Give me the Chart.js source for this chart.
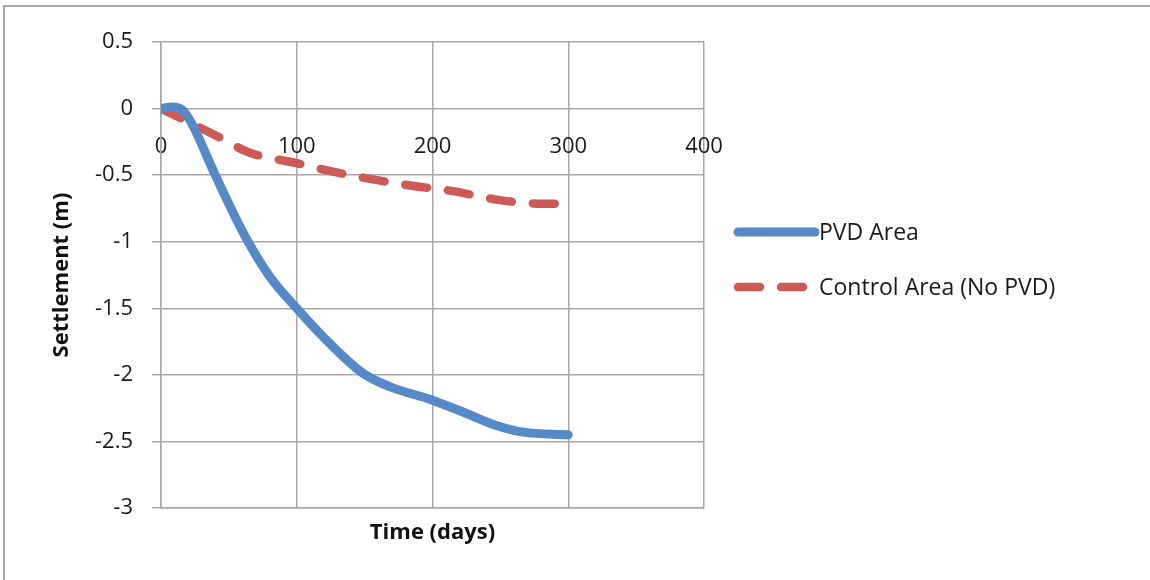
<!doctype html>
<html><head><meta charset="utf-8">
<script src="https://cdn.jsdelivr.net/npm/chart.js@4.4.0/dist/chart.umd.min.js"></script>
<style>
* { margin:0; padding:0; box-sizing:border-box; }
html,body { width:1150px; height:580px; overflow:hidden; background:#fff; }
.frame { position:absolute; left:3px; top:5px; width:1160px; height:600px;
  border-top:2px solid #a8a8a8; border-left:2px solid #a8a8a8; }
canvas { position:absolute; left:0; top:0; }
</style></head>
<body>
<div class="frame"></div>
<canvas id="chart" width="1150" height="580"></canvas>
<script>
// values
const pvdDays = [0, 8, 15, 22, 40, 62, 80, 100, 120, 149, 169, 200, 225, 247, 267, 300];
const pvdSettlement = [0, 0.012, -0.005, -0.1, -0.5, -0.96, -1.26, -1.5, -1.72, -1.99, -2.09, -2.19, -2.29, -2.38, -2.43, -2.45];
const controlDays = [0, 10, 40, 65, 100, 125, 155, 185, 215, 245, 270, 290];
const controlSettlement = [0, -0.05, -0.2, -0.33, -0.41, -0.47, -0.53, -0.58, -0.62, -0.68, -0.71, -0.715];
const xTicks = [0, 100, 200, 300, 400];
const yTicks = [0.5, 0, -0.5, -1, -1.5, -2, -2.5, -3];
const seriesNames = ['PVD Area', 'Control Area (No PVD)'];

const FONT = "'Open Sans', sans-serif";
const GRID = '#a8a8a8';
const BLUE = '#5589c8';
const RED = '#cd5a55';

const pts = (xs, ys) => xs.map((x, i) => ({ x, y: ys[i] }));

// legend drawn on canvas from the datasets, right of the plot
const sideLegend = {
  id: 'sideLegend',
  afterDraw(chart) {
    const ctx = chart.ctx;
    const x0 = chart.chartArea.right + 31;
    const rows = [232, 287];
    chart.data.datasets.forEach((ds, i) => {
      const y = rows[i];
      ctx.save();
      ctx.strokeStyle = ds.borderColor;
      ctx.lineWidth = ds.borderWidth;
      ctx.lineCap = 'round';
      ctx.setLineDash(ds.borderDash || []);
      ctx.beginPath();
      ctx.moveTo(x0 + 3, y);
      ctx.lineTo(x0 + (ds.borderDash ? 76 : 80), y);
      ctx.stroke();
      ctx.setLineDash([]);
      ctx.fillStyle = '#1a1a1a';
      ctx.font = `23px ${FONT}`;
      ctx.textBaseline = 'middle';
      ctx.fillText(ds.label, x0 + 84, y + 1);
      ctx.restore();
    });
  }
};

new Chart(document.getElementById('chart'), {
  type: 'line',
  data: {
    datasets: [
      {
        label: seriesNames[0], data: pts(pvdDays, pvdSettlement),
        borderColor: BLUE, borderWidth: 9, borderCapStyle: 'round', borderJoinStyle: 'round',
        cubicInterpolationMode: 'monotone', pointRadius: 0, fill: false
      },
      {
        label: seriesNames[1], data: pts(controlDays, controlSettlement),
        borderColor: RED, borderWidth: 8.5, borderDash: [22, 21], borderCapStyle: 'round',
        cubicInterpolationMode: 'monotone', pointRadius: 0, fill: false
      }
    ]
  },
  options: {
    responsive: false, animation: false, devicePixelRatio: 1,
    layout: { padding: { top: 42, right: 446, bottom: 0, left: 0 } },
    plugins: { legend: { display: false }, tooltip: { enabled: false } },
    scales: {
      x: {
        type: 'linear', min: 0, max: 400, position: 'bottom',
        afterBuildTicks: s => { s.ticks = xTicks.map(v => ({ value: v })); },
        afterFit: s => { s.height = 72; },
        ticks: { display: false },
        grid: { color: GRID, lineWidth: 1.5, drawTicks: false },
        border: { color: GRID, width: 1.5 },
        title: { display: true, text: 'Time (days)', color: '#111',
          font: { family: FONT, size: 22, weight: 'bold' }, padding: { top: 0, bottom: 34 } }
      },
      x2: {
        type: 'linear', min: 0, max: 400, position: { y: 0 },
        afterBuildTicks: s => { s.ticks = xTicks.map(v => ({ value: v })); },
        ticks: { color: '#1a1a1a', font: { family: FONT, size: 22 }, padding: 25 },
        grid: { display: false, drawOnChartArea: false, drawTicks: false },
        border: { display: false }
      },
      y: {
        type: 'linear', min: -3, max: 0.5, position: 'left',
        afterBuildTicks: s => { s.ticks = yTicks.map(v => ({ value: v })); },
        afterFit: s => { s.width = 161; },
        ticks: { color: '#1a1a1a', font: { family: FONT, size: 22 }, padding: 19,
          callback: v => String(v) },
        grid: { color: GRID, lineWidth: 1.5, tickLength: 9 },
        border: { color: GRID, width: 1.5 },
        title: { display: true, text: 'Settlement (m)', color: '#111',
          font: { family: FONT, size: 22, weight: 'bold' }, padding: { top: 49, bottom: 0 } }
      }
    }
  },
  plugins: [sideLegend]
});
</script>
</body></html>
